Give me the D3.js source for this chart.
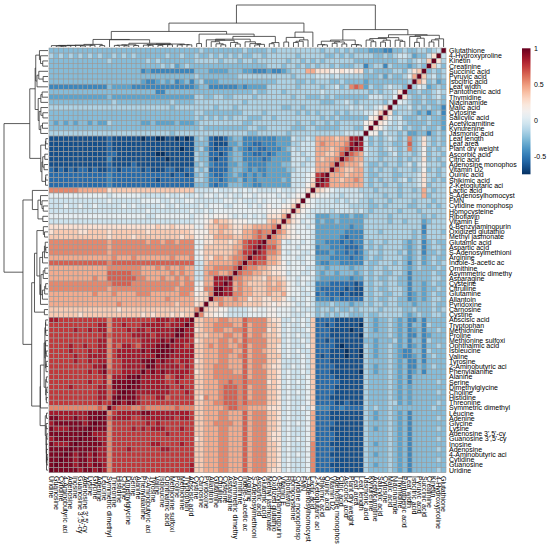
<!DOCTYPE html>
<html><head><meta charset="utf-8">
<script src="https://cdn.jsdelivr.net/npm/d3@7"></script>
<style>body{margin:0;background:#fff} text{font-family:"Liberation Sans",Arial,sans-serif}</style>
</head><body><svg id="c" width="550" height="545"></svg>
<script>
const rowNames = ["Glutathione","4-Hydroxyproline","Kinetin","Creatinine","Succinic acid","Pyruvic acid","Isocitric acid","Leaf width","Pantothenic acid","Thymidine","Niacinamide","Malic acid","Cytosine","Salicylic acid","Acetylcarnitine","Kynurenine","Jasmonic acid",
"Leaf length","Leaf area","Plant dry weight","Ascorbic acid","Citric acid","Adenosine monophos","Vitamin D2","Quinic acid","Shikimic acid","2-Ketoglutaric aci",
"Lactic acid","S-Adenosylhomocyst","FMN","Cytidine monophosp","Homocysteine","Riboflavin","Vitamin E","6-Benzylaminopurin","Oxidized glutathio","Methyl jasmonate",
"Glutamic acid","Aspartic acid","S-Adenosylmethioni","Arginine","Indole-3-acetic ac","Ornithine","Asymmetric dimethy","Asparagine","Cysteine","Citrulline","Glutamine","Allantoin","Pyridoxine","Carnosine","Cystine",
"Abscisic acid","Tryptophan","Methionine","Proline","Methionine sulfoxi","Ophthalmic acid","Isoleucine","Valine","Tyrosine","2-Aminobutyric aci","Phenylalanine","Alanine","Serine","Dimethylglycine","Choline","Histidine","Threonine","Symmetric dimethyl",
"Leucine","Adenine","Glycine","Lysine","Adenosine 3',5'-cy","Guanosine 3',5'-cy","Inosine","Adenosine","4-Aminobutyric aci","Cytidine","Guanosine","Uridine"];

// correlation levels: a=-0.75, b=-0.65 ... r=0.95 (step 0.1)
const levelCodes = "abcdefghijklmnopqr";
const levelMin = -0.75, levelStep = 0.1;

// lower triangle, row i holds correlations with rows 0..i-1 (row order above)
const lowerRows = [
"",
"h","gk","fhl","gfgf","gfhgl","fegfkm","fgfehig","ghgffgff","fhgfgffgk","fgffgffghi","dffgfgfhggh","dgfdfefgggfk","effgfgfffhgil","effgffffghghjk","egffgffgfhgghjk","fgfdffeegfgghfjj",
"fgfgkgfngfghgfgfh",
"fgfgkgfogffggfgfh"+"q",
"gfgfjgfngfghgfggh"+"qq",
"fggfjgfggfhgffggh"+"mno",
"gfgfkggfgfgggfggg"+"mmno",
"fgggjhfhgfggfgffg"+"lmmmn",
"gfgfjgfgggfggfgfg"+"mmllmn",
"gfggkhgggffgggffg"+"mmmlmmm",
"fgfgkhgfhgfggfgfg"+"mnmmlmmq",
"gggfkhgggfggfggfg"+"mmmmmmmpq",
"ggfgmgfggfggggfgg"+"ghhhhhijkl",
"gggfmggggfggfgggg"+"hhhhghhiij"+"k",
"ggfgggfggggfgggfg"+"ghhghghhhh"+"ij",
"gfgfggffggggfgffg"+"ggghhhhhhh"+"ijk",
"gggggfgggfgggggfg"+"hghhhhghhh"+"hijl",
"ggfgfggggggfggggf"+"eefeeffeee"+"hhijk",
"gggfegggfggfggggg"+"eeeeefeefe"+"hihjkm",
"ggggdgggggggggggg"+"eedeeeeeee"+"ihiijkl",
"fgggdgfggggggfggg"+"ddddeeeeee"+"hiiijkmn",
"ggggegfgggggggggg"+"dddcdeeeee"+"hiijjklmn",
"ffgfdgfefgggfggfg"+"ddcdcdddee"+"hihiihimnn",
"fggfdgfefggggfgfg"+"dcccdddeed"+"hiihiiimoo"+"q",
"fgffdgfegfgggfggf"+"dcdcddeddd"+"ihhiihimnn"+"pq",
"ffgfegfefggggffgf"+"ddcddddeee"+"hihhiiilmm"+"ppp",
"gfgfegfdfgfgggffg"+"dddddeedde"+"iihiihjlmm"+"oopo",
"fgfffgfefgggfggfg"+"ffeffffeff"+"hhiiiijkkl"+"mmnno",
"ffgffffdfggffggfg"+"fefffeffef"+"ihhiihjkkl"+"lmmnno",
"fggffffdffggffgfg"+"eedeeeeeef"+"hiihiikllm"+"kllmmnn",
"ffgfeffdffggfggfg"+"cbcccccddd"+"hhihijlmlm"+"llllmnmq",
"fgffeffdfgggffgfg"+"bbcbcccccd"+"hihiijlmmm"+"lllmmnmqq",
"ffgfefedfggffggfg"+"bbbcbcccdc"+"ihhiijmllm"+"lllmmnnqqr",
"fggfefedffggffgfg"+"cccccdcddd"+"hihihikllk"+"kllkmmnmmnn",
"ffgfffefffggfggfg"+"ffefffgfff"+"hihhijjkjk"+"kllllmmmmnll",
"gfgfffgffggggfggg"+"gfgffgfggf"+"hhhihiiijj"+"iijihhhhjjkkl",
"fggffgfefgggggffg"+"fffggfgfgf"+"hihhhiiijj"+"iiiihhhhijjkkn",
"ffffdfddfefgffefg"+"bbbbbbcccc"+"lhihihhkkl"+"nnnnommmnnmmmll",
"fffgdffdfefgffefg"+"abbbbbcbcc"+"lhihhihkll"+"nnnmommnnnnmmll"+"q",
"fgffdfedfefgffefg"+"bbabbbbccc"+"lihhhihklk"+"nnnmonnmmnnmmlk"+"qq",
"fffedfddfefgffffg"+"abbbbbbccc"+"lhhihihkll"+"mnnmommnnmmmlll"+"qqr",
"fffgdffdfegfffeff"+"bbbbbbcbcc"+"lhihhihlll"+"nnnnomnmnnmmmlk"+"pqqq",
"fgffdfedfefgffefg"+"bbbbabcccc"+"lihhhihkll"+"nnnmonmmnnmnmll"+"qpqqq",
"fffgdffddefgffefg"+"abbabbbccc"+"lhhihihkll"+"mnnmommnnnmmmll"+"qqqqrr",
"ffgfdfeddefgffefg"+"abbabbbcbc"+"lhihhihlll"+"nnnmonmmnnmmmll"+"qqqqqrr",
"ffffdfddfefgffffg"+"bbbbbbbccc"+"lhihhhhkll"+"nnnmommmnnmmmlk"+"pqqpqqrq",
"ffgfefddfefgffefg"+"bbbbbbcccc"+"lhihihhkkl"+"mnnmommmnnnmmll"+"pqpqqqqqr",
"ffffdfedfefgffefg"+"abbbbbbccc"+"lhihhihkll"+"nnnmommnnnnmmlk"+"pqqqqqrqrq",
"fffffffdfefgffffg"+"bbbbbbcccc"+"lihhhihkll"+"nnnmonnnnnnmmll"+"ppqqpoqqqqq",
"fgfffffdfefgffffg"+"bbbbbccccc"+"lihihihklk"+"nnnnonnonnmmmll"+"pppqppqqqqqr",
"fffffffefefgffffg"+"bbbbbbcccc"+"lihhhihkll"+"nnnmonooonmmmll"+"ppqppqqqqqqrr",
"fgfffffefefgffffg"+"bbbbbbcccc"+"lihihihkll"+"nnnmonooonmmmll"+"pqpppqqqqqqqrr",
"fffffffefefgffffg"+"bbbbbbbccc"+"lihhhihkll"+"nnnmonooonmmnkl"+"pppppoqqpppqrrr",
"fgfffffefeggffffg"+"bbbcbbcccc"+"lihhhihkll"+"nnnnonooonnmmll"+"pppppppppppqrrqr",
"ffgffffffffgffgfg"+"ccccdccddd"+"khihhihkkk"+"mmmmnnoonmmmmll"+"nnnonnnnnnonnooop",
"fffffffdfefgffefg"+"bbbbbbbccc"+"mihhhihkll"+"nnnmommmnnmmmll"+"pqqqqqqqqrr"+"qqqqqpn",
"fgfffffdfefgffefg"+"bbbbbbbccc"+"mihhhihkll"+"nnnmommmnnmmmll"+"pqqpqqqqqqq"+"ppqqqqo"+"r",
"fffffffdfefgffffg"+"bbbbbbcccc"+"mihihihkll"+"nnnmommnnnnmmll"+"pppppppqpqp"+"ppppppn"+"rr",
"fgfffffdfefgffefg"+"bbbbbbbccc"+"mihhhihkll"+"nnnmommmnnmmmll"+"ppqpppqqqpq"+"pqppppn"+"rrr",
"fffffffdfefgffffg"+"bbbbbbcccc"+"mihhhihkkl"+"nnnmommmnnmmmll"+"pppppqppppp"+"ppppppn"+"qqqr",
"fgfffffdfefgffffg"+"bbbbbbcccc"+"mihihihkkl"+"nnnmommmnnmmmlk"+"ppppppppppp"+"ppppppn"+"qqrrr",
"fffffffdfefgffefg"+"bbbbbbbccc"+"nihhhihkll"+"nnnmommmnnmmmll"+"ppqppppqqpp"+"ppppppn"+"qrrrrr",
"fgfffffdfefgffffg"+"bbbbbbcccc"+"nihhhihkll"+"nnnmommmnnmmmll"+"pppppqqpppp"+"ppqpppn"+"qqrrrrr",
"fffffffdfefgffefg"+"bbbbbbbccc"+"nihihihkll"+"nnnmommmnnmmmll"+"ppppppppppp"+"ppppppn"+"qqrqrrqr",
"fgfffffdfefgffffg"+"bbbbbbcccc"+"nihhhihkll"+"nnnmommmnnmmmll"+"ppppppppppp"+"ppppppn"+"qqrqrrqrr",
"fffffffdfefgffefg"+"bbbbbbbccc"+"nihhhihkll"+"nnnmommmnnmmmll"+"qpppppppppp"+"ppppppn"+"qrrqrrqrrr",
"fgfffffdfefgffffg"+"bbbbbbcccc"+"nihhhihkkl"+"nnnmommmnnmmmll"+"qpppppppppp"+"ppppppn"+"qrqrrqrrrrr"
];
const legendTicks = [1, 0.5, 0, -0.5];

const n = rowNames.length;
const val = c => levelMin + levelStep * levelCodes.indexOf(c);
const M = d3.range(n).map(() => new Array(n).fill(0));
for (let i = 0; i < n; i++) {
  M[i][i] = 1;
  const s = lowerRows[i] || "";
  for (let j = 0; j < i; j++) {
    const v = val(s[j] || "g");
    M[i][j] = v; M[j][i] = v;
  }
}
const colNames = rowNames.slice().reverse();

// geometry
const L = 49, R = 446, T = 48, B = 472.7;
const svg = d3.select("#c");
const xBand = d3.scaleBand().domain(colNames).range([L, R]);
const yBand = d3.scaleBand().domain(rowNames).range([T, B]);
const color = d3.scaleSequential(d3.interpolateRdBu).domain([1, levelMin]);

const cells = [];
rowNames.forEach((rn, i) => colNames.forEach((cn, c) => cells.push({rn, cn, v: M[i][n - 1 - c]})));
svg.append("g").selectAll("rect").data(cells).join("rect")
  .attr("x", d => xBand(d.cn)).attr("y", d => yBand(d.rn))
  .attr("width", xBand.bandwidth()).attr("height", yBand.bandwidth())
  .attr("fill", d => color(d.v)).attr("stroke", "#999").attr("stroke-width", 0.6);

// order-preserving complete-linkage clustering of the rows (euclidean)
const Dm = d3.range(n).map(i => d3.range(n).map(j => Math.sqrt(d3.sum(d3.range(n), k => (M[i][k] - M[j][k]) ** 2))));
let clusters = d3.range(n).map(i => ({members: [i], pos: i, h: 0}));
const segs = [];
while (clusters.length > 1) {
  let best = 0, bd = Infinity;
  for (let k = 0; k < clusters.length - 1; k++) {
    let d = 0;
    for (const p of clusters[k].members) for (const q of clusters[k + 1].members) if (Dm[p][q] > d) d = Dm[p][q];
    if (d < bd) { bd = d; best = k; }
  }
  const a = clusters[best], b = clusters[best + 1];
  const h = Math.max(bd, a.h, b.h);
  segs.push({p1: a.pos, h1: a.h, p2: b.pos, h2: b.h, h});
  clusters.splice(best, 2, {members: a.members.concat(b.members), pos: (a.pos + b.pos) / 2, h});
}
const H = clusters[0].h;
const rowPos = d3.scaleLinear().domain([-0.5, n - 0.5]).range([T, B]);
const colPos = d3.scaleLinear().domain([n - 0.5, -0.5]).range([L, R]);
const hx = d3.scaleLinear().domain([0, H]).range([48, 4]);
const hy = d3.scaleLinear().domain([0, H]).range([47, 5]);
svg.append("g").selectAll("path").data(segs).join("path")
  .attr("d", s => `M${hx(s.h1)},${rowPos(s.p1)}H${hx(s.h)}V${rowPos(s.p2)}H${hx(s.h2)}`)
  .attr("fill", "none").attr("stroke", "#333").attr("stroke-width", 0.8);
svg.append("g").selectAll("path").data(segs).join("path")
  .attr("d", s => `M${colPos(s.p1)},${hy(s.h1)}V${hy(s.h)}H${colPos(s.p2)}V${hy(s.h2)}`)
  .attr("fill", "none").attr("stroke", "#333").attr("stroke-width", 0.8);

// labels
svg.append("g").selectAll("text").data(rowNames).join("text")
  .attr("x", 449).attr("y", d => yBand(d) + yBand.bandwidth() / 2)
  .attr("dy", "0.35em").attr("font-size", 7).attr("fill", "#000").text(d => d);
svg.append("g").selectAll("text").data(colNames).join("text")
  .attr("transform", d => `translate(${xBand(d) + xBand.bandwidth() / 2},476) rotate(90)`)
  .attr("dy", "0.35em").attr("font-size", 7).attr("fill", "#000").text(d => d);

// legend
const lg = d3.scaleLinear().domain([1, levelMin]).range([48.3, 174.3]);
const grad = svg.append("defs").append("linearGradient").attr("id", "lgG")
  .attr("x1", 0).attr("y1", 0).attr("x2", 0).attr("y2", 1);
d3.range(0, 1.0001, 0.05).forEach(t => grad.append("stop").attr("offset", t)
  .attr("stop-color", color(1 + t * (levelMin - 1))));
svg.append("rect").attr("x", 522).attr("y", lg(1)).attr("width", 8.5)
  .attr("height", lg(levelMin) - lg(1)).attr("fill", "url(#lgG)");
svg.append("g").selectAll("text").data(legendTicks).join("text")
  .attr("x", 534).attr("y", d => lg(d)).attr("dy", "0.35em").attr("font-size", 7)
  .attr("fill", "#000").text(d => d);
</script></body></html>
